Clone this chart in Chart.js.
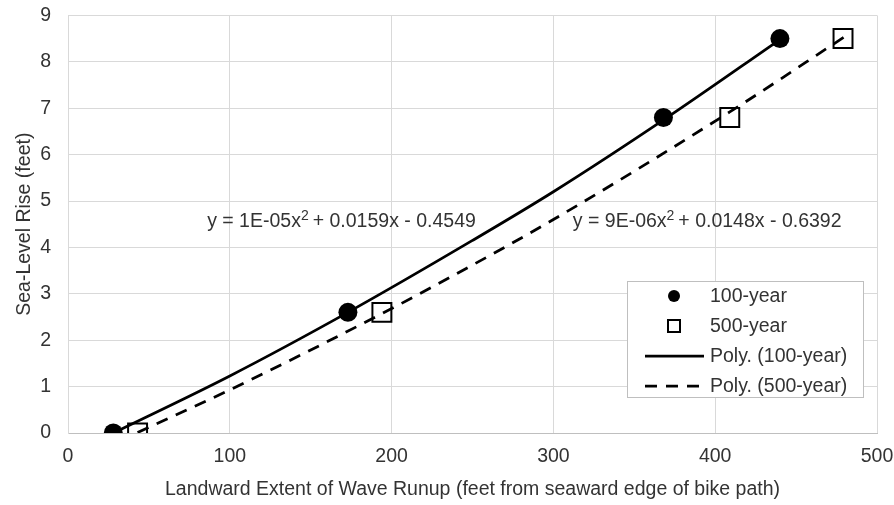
<!DOCTYPE html>
<html>
<head>
<meta charset="utf-8">
<script src="https://cdn.jsdelivr.net/npm/chart.js@4/dist/chart.umd.min.js"></script>
<style>
  html, body { margin: 0; padding: 0; background: #fff; }
  #wrap { width: 894px; height: 505px; }
</style>
</head>
<body>
<div id="wrap"><canvas id="runupChart"></canvas></div>
<script>
// 1. DATOS
const xTicks = [0, 100, 200, 300, 400, 500];
const yTicks = [0, 1, 2, 3, 4, 5, 6, 7, 8, 9];

const seriesNames = ["100-year", "500-year", "Poly. (100-year)", "Poly. (500-year)"];

const sea100 = [0, 2.6, 6.8, 8.5];
const run100 = [28, 173, 368, 440];
const sea500 = [0, 2.6, 6.8, 8.5];
const run500 = [43, 194, 409, 479];

// curvas de tendencia
const trend100X = [28, 100, 173, 250, 300, 369, 440];
const trend100Y = [0.0, 1.23, 2.6, 4.15, 5.2, 6.77, 8.48];
const trend500X = [43, 100, 195, 250, 300, 409, 480];
const trend500Y = [0.01, 0.93, 2.59, 3.62, 4.6, 6.92, 8.54];

const eqLabels = [
  { x: 86, y: 4.55, parts: ["y = 1E-05x", "2", "+ 0.0159x - 0.4549"] },
  { x: 312, y: 4.55, parts: ["y = 9E-06x", "2", "+ 0.0148x - 0.6392"] },
];

// 2. AUXILIARES
const FONT = "'Liberation Sans', Arial, sans-serif";
const TXT = "#333333";
const pts = (xs, ys) => xs.map((x, i) => ({ x, y: ys[i] }));

// ecuaciones de tendencia
const equationPlugin = {
  id: "equations",
  afterDatasetsDraw(chart) {
    const { ctx, scales } = chart;
    ctx.save();
    ctx.fillStyle = TXT;
    ctx.textBaseline = "middle";
    ctx.textAlign = "left";
    eqLabels.forEach(eq => {
      let px = scales.x.getPixelForValue(eq.x);
      const py = scales.y.getPixelForValue(eq.y);
      eq.parts.forEach((p, i) => {
        const sup = i === 1;
        ctx.font = (sup ? 14 : 19.5) + "px " + FONT;
        ctx.fillText(p, px, sup ? py - 6 : py);
        px += ctx.measureText(p).width + (sup ? 4 : 0);
      });
    });
    ctx.restore();
  }
};

// leyenda dibujada a mano (cuadro dentro del área del gráfico)
const legendPlugin = {
  id: "boxLegend",
  afterDraw(chart) {
    const { ctx } = chart;
    const bx = 627, by = 281, bw = 236, bh = 116;
    ctx.save();
    ctx.fillStyle = "#fff";
    ctx.fillRect(bx, by, bw, bh);
    ctx.strokeStyle = "#bfbfbf";
    ctx.lineWidth = 1;
    ctx.strokeRect(bx + 0.5, by + 0.5, bw, bh);
    ctx.font = "19.5px " + FONT;
    ctx.textBaseline = "middle";
    seriesNames.forEach((name, i) => {
      const cy = by + 15 + i * 30;
      ctx.strokeStyle = "#000";
      ctx.fillStyle = "#000";
      if (i === 0) {
        ctx.beginPath();
        ctx.arc(674, cy, 6, 0, Math.PI * 2);
        ctx.fill();
      } else if (i === 1) {
        ctx.lineWidth = 2;
        ctx.strokeRect(668, cy - 6, 12, 12);
      } else {
        ctx.lineWidth = 2.75;
        ctx.setLineDash(i === 3 ? [12, 9] : []);
        ctx.beginPath();
        ctx.moveTo(645, cy);
        ctx.lineTo(704, cy);
        ctx.stroke();
        ctx.setLineDash([]);
      }
      ctx.fillStyle = TXT;
      ctx.fillText(name, 710, cy + 1);
    });
    ctx.restore();
  }
};

// 3. GRÁFICO
function initChart() {
  const ctx = document.getElementById("runupChart").getContext("2d");
  new Chart(ctx, {
    type: "scatter",
    data: {
      datasets: [
        {
          label: seriesNames[2], type: "line", data: pts(trend100X, trend100Y),
          borderColor: "#000", borderWidth: 2.75, pointRadius: 0,
          tension: 0.4, cubicInterpolationMode: "monotone", fill: false
        },
        {
          label: seriesNames[3], type: "line", data: pts(trend500X, trend500Y),
          borderColor: "#000", borderWidth: 2.75, borderDash: [12, 9], pointRadius: 0,
          tension: 0.4, cubicInterpolationMode: "monotone", fill: false
        },
        {
          label: seriesNames[0], data: pts(run100, sea100),
          pointStyle: "circle", pointRadius: 9.5,
          backgroundColor: "#000", borderColor: "#000", borderWidth: 0
        },
        {
          label: seriesNames[1], data: pts(run500, sea500),
          pointStyle: "rect", pointRadius: 13.4,
          backgroundColor: "#fff", borderColor: "#000", borderWidth: 2
        },
      ],
    },
    options: {
      responsive: true,
      maintainAspectRatio: false,
      animation: false,
      layout: { padding: { top: 12, right: 17, left: 0, bottom: 0 } },
      plugins: {
        legend: { display: false },
        tooltip: { enabled: false }
      },
      scales: {
        x: {
          type: "linear", min: 0, max: 500,
          afterBuildTicks: s => { s.ticks = xTicks.map(v => ({ value: v })); },
          afterFit: s => { s.height = 72; s.paddingLeft = 0; s.paddingRight = 0; },
          grid: { color: "#d9d9d9", drawTicks: false },
          border: { color: "#bfbfbf" },
          ticks: { padding: 12, color: TXT, font: { family: FONT, size: 19.5 } },
          title: {
            display: true, color: TXT,
            text: "Landward Extent of Wave Runup (feet from seaward edge of bike path)",
            font: { family: FONT, size: 19.5 }, padding: { top: 0, bottom: 4 }
          }
        },
        y: {
          type: "linear", min: 0, max: 9,
          afterBuildTicks: s => { s.ticks = yTicks.map(v => ({ value: v })); },
          afterFit: s => { s.width = 68; s.paddingTop = 0; s.paddingBottom = 0; },
          grid: { color: "#d9d9d9", drawTicks: false },
          border: { color: "#d9d9d9" },
          ticks: { padding: 17, color: TXT, font: { family: FONT, size: 19.5 } },
          title: {
            display: true, color: TXT, text: "Sea-Level Rise (feet)",
            font: { family: FONT, size: 19.5 }, padding: { top: 13, bottom: 0 }
          }
        }
      }
    },
    plugins: [equationPlugin, legendPlugin]
  });
}

initChart();
</script>
</body>
</html>
